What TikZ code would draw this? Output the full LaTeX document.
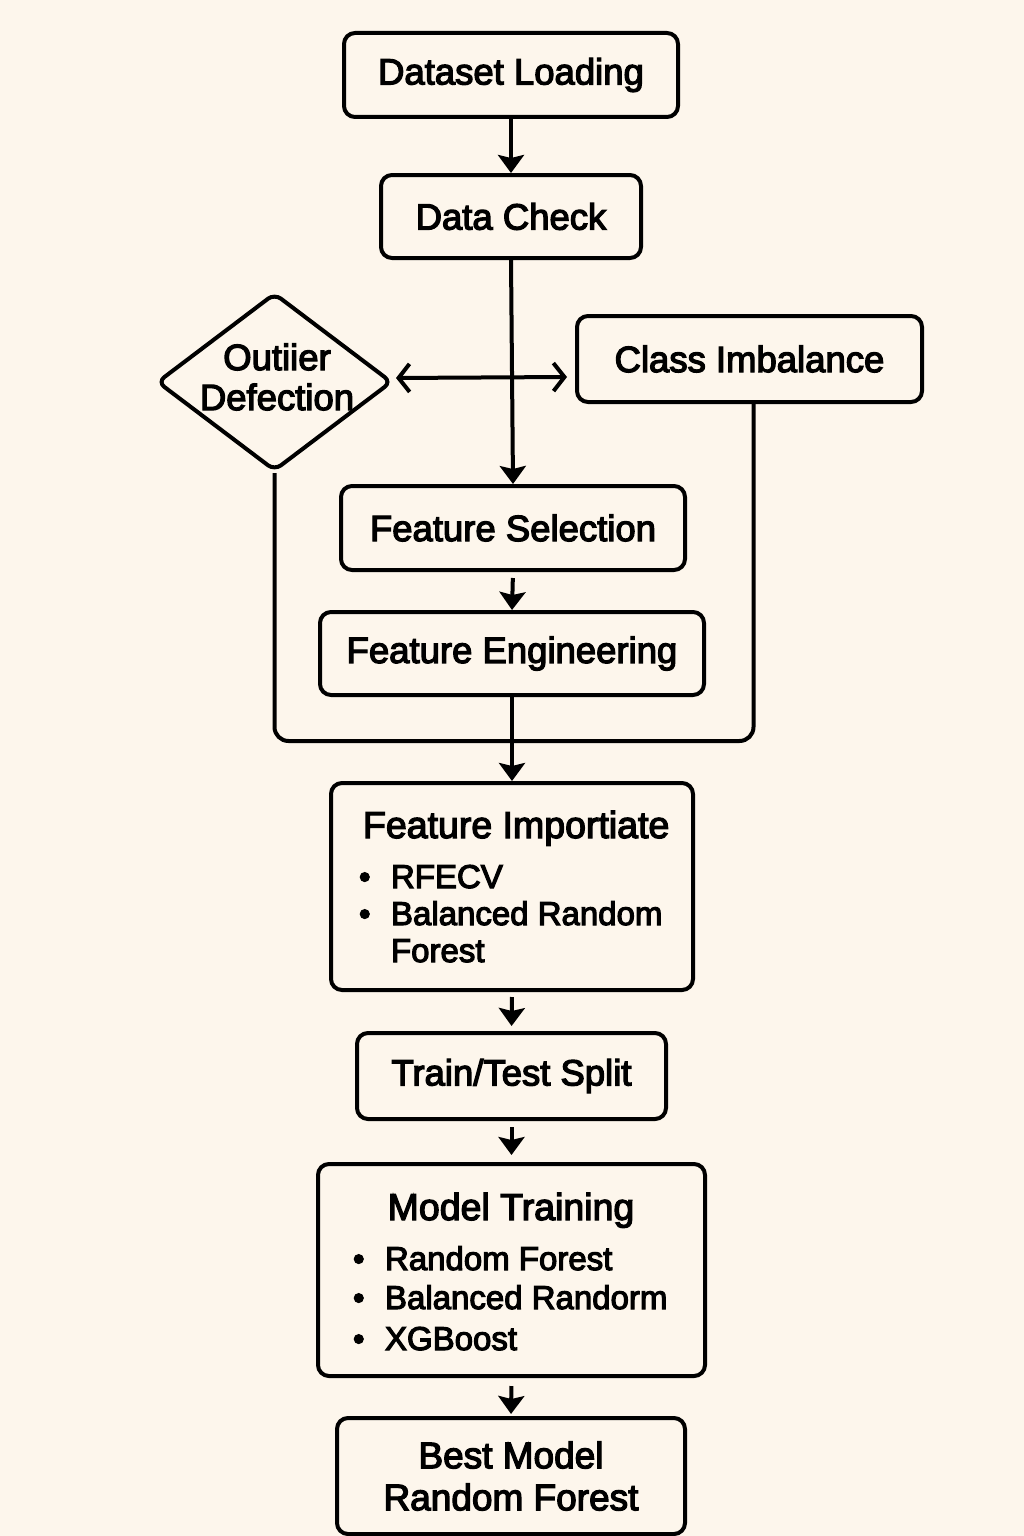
\documentclass[tikz,border=0pt]{standalone}
\usepackage{fontspec}
\setmainfont{Liberation Sans}[FakeBold=3.5]
\usetikzlibrary{shapes.geometric,arrows.meta,calc}
\definecolor{bg}{HTML}{FDF6EC}
\begin{document}
\begin{tikzpicture}[x=1pt,y=-1pt,line width=4pt,
  box/.style={draw, rounded corners=11pt, inner sep=0pt},
  txt/.style={inner sep=0pt, font=\fontsize{36.5}{40}\selectfont},
  btxt/.style={inner sep=0pt, font=\fontsize{33}{38}\selectfont},
  arr/.style={-{Stealth[length=18pt,width=26pt,inset=3pt]}},
  dbl/.style={{Straight Barb[length=11pt,width=28pt]}-{Straight Barb[length=11pt,width=28pt]}}]
\useasboundingbox (0,0) rectangle (1024,1536);
\fill[bg] (0,0) rectangle (1024,1536);

\node[box, minimum width=334pt, minimum height=84pt, txt] (dl) at (511,75) {Dataset Loading};
\node[box, minimum width=260pt, minimum height=83pt, txt] (dc) at (511,216.5) {Data Check};
\node[draw, diamond, rounded corners=8pt, minimum width=235pt, minimum height=178pt, inner sep=0pt] (di) at (274.5,382) {};
\node[txt, align=center] (ditxt) at (277,377) {Outiier\\Defection};
\node[box, minimum width=345pt, minimum height=86pt, txt] (ci) at (749.5,359) {Class Imbalance};
\node[box, minimum width=344pt, minimum height=84pt, txt] (fs) at (513,528) {Feature Selection};
\node[box, minimum width=384pt, minimum height=83pt, txt] (fe) at (512,653.5) {Feature Engineering};
\node[box, minimum width=362pt, minimum height=207pt] (fi) at (512,886.5) {};
\node[txt, anchor=base west, font=\fontsize{37.5}{40}\selectfont] (fit) at (361,838) {Feature Importiate};
\node[btxt, anchor=base west] (fib1) at (357,888) {•};
\node[btxt, anchor=base west] (fi1) at (389,888) {RFECV};
\node[btxt, anchor=base west] (fib2) at (357,925) {•};
\node[btxt, anchor=base west] (fi2) at (389,925) {Balanced Random};
\node[btxt, anchor=base west] (fi3) at (389,962) {Forest};
\node[box, minimum width=309pt, minimum height=86pt, txt] (tt) at (511.5,1076) {Train/Test Split};
\node[box, minimum width=387pt, minimum height=212pt] (mt) at (511.5,1270) {};
\node[anchor=base, inner sep=0pt, font=\fontsize{37.5}{40}\selectfont] (mtt) at (511,1220) {Model Training};
\node[btxt, anchor=base west] (mtb1) at (351,1270) {•};
\node[btxt, anchor=base west] (mt1) at (383,1270) {Random Forest};
\node[btxt, anchor=base west] (mtb2) at (351,1309) {•};
\node[btxt, anchor=base west] (mt2) at (383,1309) {Balanced Randorm};
\node[btxt, anchor=base west] (mtb3) at (351,1350) {•};
\node[btxt, anchor=base west] (mt3) at (383,1350) {XGBoost};
\node[box, minimum width=348pt, minimum height=116pt, align=center, inner sep=0pt, font=\fontsize{37}{42}\selectfont] (bm) at (511,1476) {Best Model\\Random Forest};

\coordinate (loop) at (512,741);
\coordinate (cil) at ($(ci.south)+(4,0)$);

\draw[arr] (dl.south) -- (dc.north);
\draw[arr] (dc.south) -- (fs.north);
\draw[dbl, shorten <=2pt] ($(di.east)+(0,-4)$) -- ($(di.east -| ci.west)+(-8,-5)$);
\draw[arr, shorten <=6pt] (fs.south) -- (fe.north);
\draw[rounded corners=14pt] (di.south) |- (loop) -| (cil);
\draw[arr] (fe.south) -- (fi.north);
\draw[arr, shorten <=5pt, shorten >=5pt] (fi.south) -- (tt.north);
\draw[arr, shorten <=6pt, shorten >=7pt] (tt.south) -- (mt.north);
\draw[arr, shorten <=8pt, shorten >=2pt] (mt.south) -- (bm.north);
\end{tikzpicture}
\end{document}
